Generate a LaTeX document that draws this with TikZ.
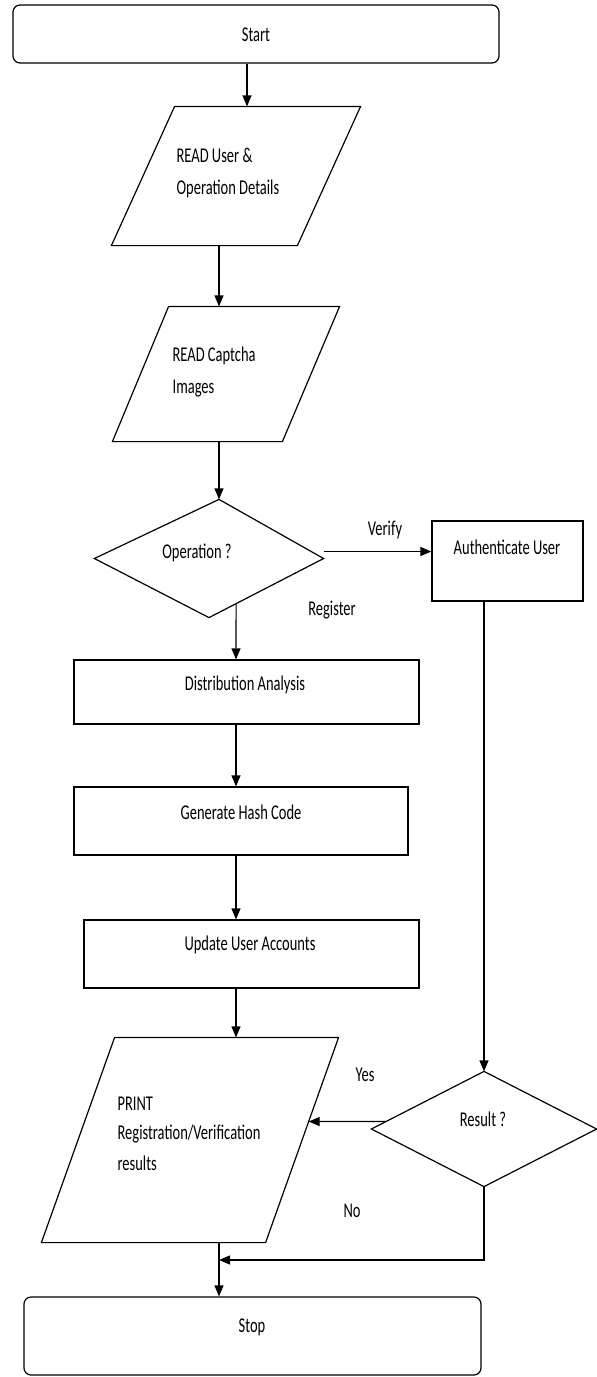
\documentclass[tikz,border=0pt]{standalone}
\usepackage{fontspec}
\setmainfont{Carlito}
\usepackage{graphicx}
\usetikzlibrary{arrows.meta,calc}
\newcommand{\tx}[1]{\scalebox{1}[1.45]{#1}}
\begin{document}
\begin{tikzpicture}[x=1pt,y=-1pt,line width=1.2pt,
  lbl/.style={inner sep=0pt,font=\fontsize{14.5}{17}\selectfont},
  box/.style={draw,rectangle,inner sep=0pt},
  ghost/.style={rectangle,inner sep=0pt,draw=none},
  arr/.style={-{Triangle[length=11pt,width=9pt]}}]
\useasboundingbox[fill=white] (0,0) rectangle (597,1377);
% column coordinates
\coordinate (cA) at (247,0);
\coordinate (cB) at (219,0);
\coordinate (cC) at (236,0);
\coordinate (cD) at (484,0);
% shapes
\node[box,rounded corners=7pt,minimum width=486pt,minimum height=58pt] (start) at (256,34) {};
\node[ghost,minimum width=248pt,minimum height=138pt] (p1) at (236,176) {};
\draw (p1.south west) -- ++(186,0) -- (p1.north east) -- ++(-186,0) -- cycle;
\node[ghost,minimum width=226pt,minimum height=134pt] (p2) at (226,374) {};
\draw (p2.south west) -- ++(170,0) -- (p2.north east) -- ++(-171,0) -- cycle;
\node[ghost,minimum width=228pt,minimum height=117pt] (op) at (209,558.5) {};
\draw (op.north -| cB) -- (op.east) -- (op.south) -- (op.west) -- cycle;
\node[box,minimum width=151pt,minimum height=80pt] (auth) at (507.5,561) {};
\node[box,minimum width=345pt,minimum height=64pt] (dist) at (246.5,692) {};
\node[box,minimum width=334pt,minimum height=68pt] (gen) at (241,821) {};
\node[box,minimum width=335pt,minimum height=68pt] (upd) at (251.5,954) {};
\node[ghost,minimum width=296pt,minimum height=204pt] (pr) at (190,1140) {};
\coordinate (prbr) at ($(pr.south east)+(-73,0)$);
\draw (pr.south west) -- (prbr) -- (pr.north east) -- ++(-224,0) -- cycle;
\node[ghost,minimum width=224pt,minimum height=114pt] (res) at (484,1129) {};
\draw (res.north) -- (res.east) -- (res.south) -- (res.west) -- cycle;
\node[box,rounded corners=7pt,minimum width=457pt,minimum height=78pt] (stop) at (252.5,1336) {};
% texts
\node[lbl,anchor=base] (tStart) at (256,41) {\tx{Start}};
\node[lbl,anchor=base west] (tP1a) at (176,162) {\tx{READ User \&}};
\node[lbl,anchor=base west] (tP1b) at (176,194) {\tx{Operation Details}};
\node[lbl,anchor=base west] (tP2a) at (172,361) {\tx{READ Captcha}};
\node[lbl,anchor=base west] (tP2b) at (172,393) {\tx{Images}};
\node[lbl,anchor=base] (tOp) at (197,558) {\tx{Operation ?}};
\node[lbl,anchor=base] (tVer) at (385,535) {\tx{Verify}};
\node[lbl,anchor=base] (tAuth) at (507,554) {\tx{Authenticate User}};
\node[lbl,anchor=base] (tReg) at (332,615) {\tx{Register}};
\node[lbl,anchor=base] (tDist) at (245,690) {\tx{Distribution Analysis}};
\node[lbl,anchor=base] (tGen) at (241,819) {\tx{Generate Hash Code}};
\node[lbl,anchor=base] (tUpd) at (250,950) {\tx{Update User Accounts}};
\node[lbl,anchor=base west] (tPra) at (117,1110) {\tx{PRINT}};
\node[lbl,anchor=base west] (tPrb) at (117,1139) {\tx{Registration/Verification}};
\node[lbl,anchor=base west] (tPrc) at (117,1170) {\tx{results}};
\node[lbl,anchor=base] (tYes) at (365,1081) {\tx{Yes}};
\node[lbl,anchor=base] (tRes) at (483,1126) {\tx{Result ?}};
\node[lbl,anchor=base] (tNo) at (352,1217) {\tx{No}};
\node[lbl,anchor=base] (tStop) at (252,1332) {\tx{Stop}};
% connectors
\draw[arr] (start.south -| cA) -- (p1.north -| cA);
\draw[arr] (p1.south -| cB) -- (p2.north -| cB);
\draw[arr] (p2.south -| cB) -- (op.north -| cB);
\coordinate (vs) at ($(op.east)+(0,-7)$);
\draw[arr] (vs) -- (vs -| auth.west);
\draw[arr] ($(op.south)!0.2368!(op.east)$) -- (dist.north -| cC);
\draw[arr] (dist.south -| cC) -- (gen.north -| cC);
\draw[arr] (gen.south -| cC) -- (upd.north -| cC);
\draw[arr] (upd.south -| cC) -- (pr.north -| cC);
\draw[arr] (auth.south -| cD) -- (res.north);
\coordinate (yend) at ($(pr.north east)!0.41!(prbr)$);
\draw[arr] ($(res.west)!0.13!(res.north)$) -- (yend);
\coordinate (jn) at (219,1260);
\draw[arr] (res.south) |- (jn);
\draw[arr] (pr.south -| cB) -- (stop.north -| cB);
\end{tikzpicture}
\end{document}
